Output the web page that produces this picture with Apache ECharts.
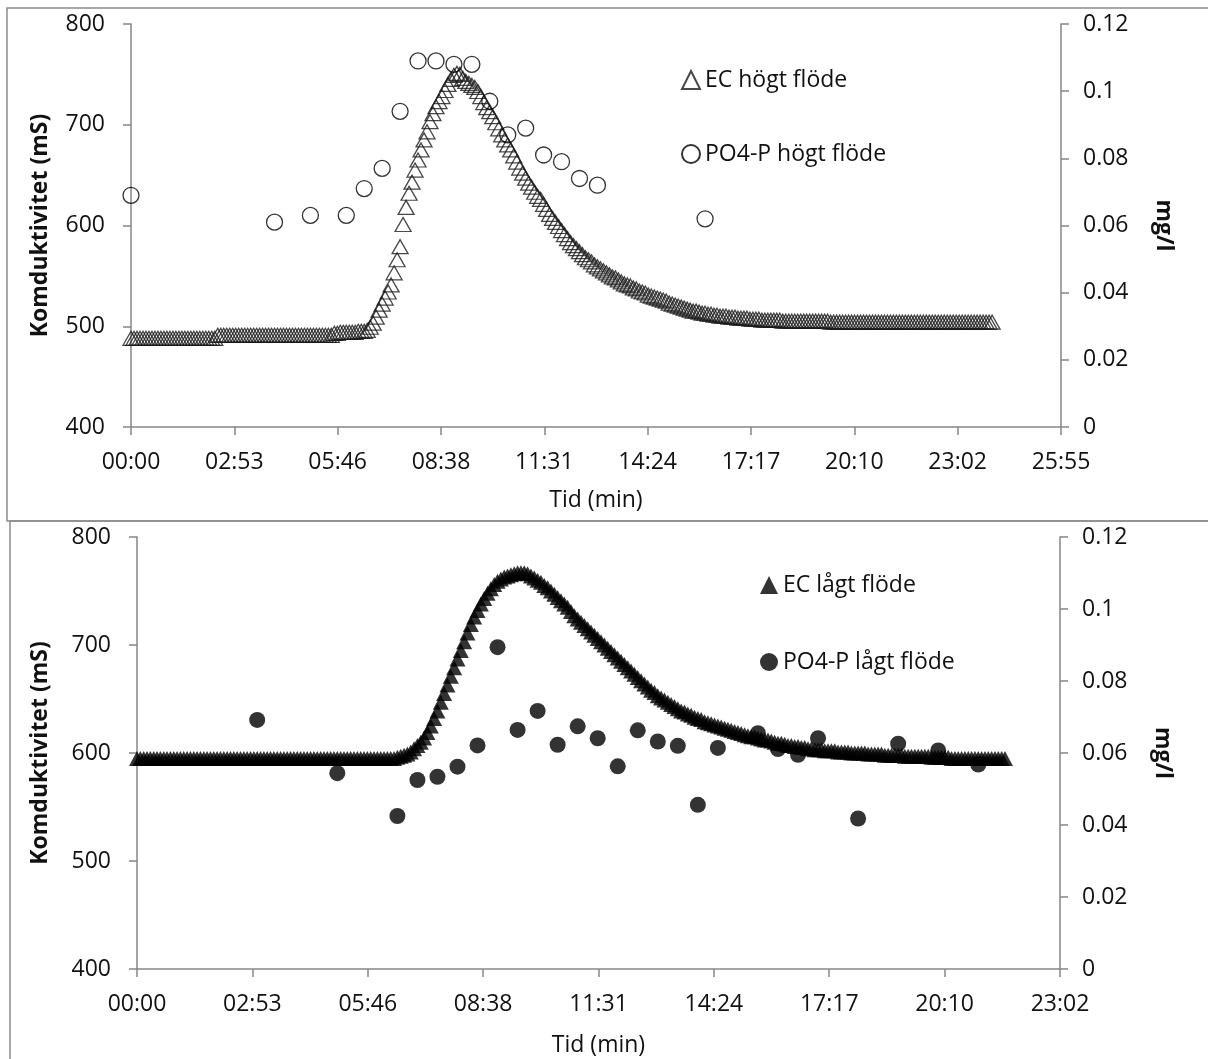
<!DOCTYPE html>
<html>
<head>
<meta charset="utf-8">
<title>EC och PO4-P</title>
<script src="https://cdn.jsdelivr.net/npm/echarts@6/dist/echarts.min.js"></script>
<style>
  html, body { margin: 0; padding: 0; background: #fff; }
  #main { width: 1208px; height: 1059px; }
</style>
</head>
<body>
<div id="main"></div>
<script>
// konduktivitet loggad var 5:e sekund (en rad = en minut)
var EC_STEP = 5;
var ecHogt = [
  488,488,488,488,488,488,488,488,488,488,488,488,
  488,488,488,488,488,488,488,488,488,488,488,488,
  488,488,488,488,488,491,491,491,491,491,491,491,
  491,491,491,491,491,491,491,491,491,491,491,491,
  491,491,491,491,491,491,491,491,491,491,491,491,
  491,491,491,491,491,491,491,491,493,493,494,494,
  494,494,494,494,495,495,495,496,499,503,509,516,
  522,528,534,541,553,566,579,601,618,632,643,655,
  665,675,685,693,703,711,718,723,728,734,740,745,
  749,751,750,746,743,741,739,737,733,728,722,717,
  713,708,702,696,690,685,680,675,669,663,657,652,
  647,642,638,633,629,626,621,616,611,607,603,599,
  595,591,587,583,580,577,574,571,568,566,564,561,
  559,557,555,553,551,549,548,546,544,542,541,540,
  538,537,535,534,533,531,530,529,528,527,526,525,
  523,522,521,520,519,518,517,516,515,515,514,513,
  513,512,512,511,511,510,510,510,509,509,509,508,
  508,508,508,507,507,507,507,506,506,506,506,506,
  506,506,505,505,505,505,505,505,505,505,505,505,
  505,505,505,505,505,505,504,504,504,504,504,504,
  504,504,504,504,504,504,504,504,504,504,504,504,
  504,504,504,504,504,504,504,504,504,504,504,504,
  504,504,504,504,504,504,504,504,504,504,504,504,
  504,504,504,504,504,504,504,504,504,504,504,504,
  504
];
var ecLagt = [
  595,595,595,595,595,595,595,595,595,595,595,595,
  595,595,595,595,595,595,595,595,595,595,595,595,
  595,595,595,595,595,595,595,595,595,595,595,595,
  595,595,595,595,595,595,595,595,595,595,595,595,
  595,595,595,595,595,595,595,595,595,595,595,595,
  595,595,595,595,595,595,595,595,595,595,595,595,
  595,595,595,595,595,595,596,597,598,599,601,604,
  607,610,614,619,625,632,639,647,655,663,671,679,
  687,695,703,711,719,726,732,738,743,748,752,756,
  759,761,763,764,765,766,767,767,767,766,764,762,
  760,758,755,753,750,747,744,741,738,735,731,727,
  724,721,718,715,712,709,706,703,700,697,694,691,
  688,685,682,679,676,673,670,667,664,661,658,656,
  653,651,649,647,645,643,641,639,638,636,635,633,
  632,631,629,628,627,626,625,624,623,622,621,620,
  619,618,617,616,615,615,614,613,612,612,611,610,
  609,609,608,607,607,606,606,605,605,604,604,603,
  603,603,602,602,602,602,601,601,601,601,600,600,
  600,600,600,599,599,599,599,599,598,598,598,598,
  598,598,597,597,597,597,597,597,597,597,596,596,
  596,596,596,596,595,595,595,595,595,595,595,595,
  595,595,595,595,595,595,595,595,595
];

// PO4-P prover (tid i sekunder, mg/l)
var poHogtTid = [0, 240, 300, 360, 390, 420, 450, 480, 510, 540, 570, 600, 630, 660, 690, 720, 750, 780, 960];
var poHogt = [0.069, 0.061, 0.063, 0.063, 0.071, 0.077, 0.094, 0.109, 0.109, 0.108, 0.108, 0.097, 0.087, 0.089, 0.081, 0.079, 0.074, 0.072, 0.062];
var poLagtTid = [180, 300, 390, 420, 450, 480, 510, 540, 570, 600, 630, 660, 690, 720, 750, 780, 810, 840, 870, 930, 960, 990, 1020, 1080, 1140, 1200, 1260];
var poLagt = [0.0692, 0.0544, 0.0425, 0.0525, 0.0534, 0.0562, 0.0621, 0.0894, 0.0664, 0.0717, 0.0623, 0.0674, 0.0641, 0.0563, 0.0663, 0.0632, 0.0620, 0.0456, 0.0614, 0.0655, 0.0611, 0.0595, 0.0641, 0.0418, 0.0626, 0.0607, 0.0568];

// axlar: excel-tid, steg 0.002 dygn = 172.8 s
var tidSteg = 172.8;
var tidMaxHogt = 1555.2;
var tidMaxLagt = 1382.4;
var ecMin = 400, ecMax = 800, ecSteg = 100;
var mgMin = 0, mgMax = 0.12, mgSteg = 0.02;

function pad(n){ return (n < 10 ? '0' : '') + n; }
function mmss(v){
  var s = Math.round(v);
  return pad(Math.floor(s / 60)) + ':' + pad(s % 60);
}
function pairs(tid, val){
  return val.map(function(v, i){ return [tid[i], v]; });
}
function stepPairs(val){
  return val.map(function(v, i){ return [i * EC_STEP, v]; });
}

var FONT = '"Open Sans", "Liberation Sans", sans-serif';
var axisGrey = '#868686';
var txt = { color: '#111', fontFamily: FONT, fontSize: 23 };

function xAx(grid, max, gap){
  return {
    type: 'value', gridIndex: grid, min: 0, max: max, interval: tidSteg,
    name: 'Tid (min)', nameLocation: 'middle', nameGap: gap,
    nameTextStyle: txt,
    axisLine: { lineStyle: { color: axisGrey, width: 1.5 } },
    axisTick: { length: 8, lineStyle: { color: axisGrey, width: 1.5 } },
    axisLabel: Object.assign({ margin: 24, formatter: mmss }, txt),
    splitLine: { show: false }
  };
}
function yLeft(grid, gap){
  return {
    type: 'value', gridIndex: grid, position: 'left', min: ecMin, max: ecMax, interval: ecSteg,
    name: 'Komduktivitet (mS)', nameLocation: 'middle', nameGap: gap,
    nameTextStyle: Object.assign({}, txt, { fontWeight: 'bold', fontSize: 23 }),
    axisLine: { show: true, lineStyle: { color: axisGrey, width: 1.5 } },
    axisTick: { show: true, length: 8, lineStyle: { color: axisGrey, width: 1.5 } },
    axisLabel: Object.assign({ margin: 26 }, txt),
    splitLine: { show: false }
  };
}
function yRight(grid, gap){
  return {
    type: 'value', gridIndex: grid, position: 'right', min: mgMin, max: mgMax, interval: mgSteg,
    name: 'mg/l', nameLocation: 'middle', nameGap: gap, nameRotate: -90,
    nameTextStyle: Object.assign({}, txt, { fontWeight: 'bold', fontSize: 23 }),
    axisLine: { show: true, lineStyle: { color: axisGrey, width: 1.5 } },
    axisTick: { show: true, length: 8, lineStyle: { color: axisGrey, width: 1.5 } },
    axisLabel: Object.assign({ margin: 22, formatter: function(v){ return String(+v.toFixed(2)); } }, txt),
    splitLine: { show: false }
  };
}

var chart = echarts.init(document.getElementById('main'), null, { renderer: 'canvas' });
chart.setOption({
  animation: false,
  backgroundColor: '#fff',
  graphic: [
    { type: 'rect', shape: { x: 7, y: 8, width: 1215, height: 513 },
      style: { fill: 'none', stroke: '#8c8c8c', lineWidth: 1.5 }, silent: true },
    { type: 'rect', shape: { x: 10, y: 521, width: 1215, height: 560 },
      style: { fill: 'none', stroke: '#8c8c8c', lineWidth: 1.5 }, silent: true }
  ],
  grid: [
    { left: 131, top: 24, width: 930, height: 403 },
    { left: 137, top: 537, width: 923, height: 432 }
  ],
  legend: [
    { orient: 'vertical', left: 676, top: 62, itemGap: 48, itemWidth: 18, itemHeight: 18,
      textStyle: Object.assign({ lineHeight: 26 }, txt),
      data: ['EC högt flöde', 'PO4-P högt flöde'] },
    { orient: 'vertical', left: 755, top: 567, itemGap: 51, itemWidth: 18, itemHeight: 18,
      textStyle: Object.assign({ lineHeight: 26 }, txt),
      data: ['EC lågt flöde', 'PO4-P lågt flöde'] }
  ],
  xAxis: [ xAx(0, tidMaxHogt, 62), xAx(1, tidMaxLagt, 65) ],
  yAxis: [ yLeft(0, 79), yRight(0, 91), yLeft(1, 85), yRight(1, 91) ],
  series: [
    { name: 'EC högt flöde', type: 'scatter', xAxisIndex: 0, yAxisIndex: 0,
      symbol: 'triangle', symbolSize: [16, 14],
      itemStyle: { color: 'rgba(0,0,0,0)', borderColor: '#1a1a1a', borderWidth: 1.3 },
      data: stepPairs(ecHogt) },
    { name: 'PO4-P högt flöde', type: 'scatter', xAxisIndex: 0, yAxisIndex: 1,
      symbol: 'circle', symbolSize: 16,
      itemStyle: { color: 'rgba(0,0,0,0)', borderColor: '#000', borderWidth: 1.3 },
      data: pairs(poHogtTid, poHogt) },
    { name: 'EC lågt flöde', type: 'scatter', xAxisIndex: 1, yAxisIndex: 2,
      symbol: 'triangle', symbolSize: [16, 15],
      itemStyle: { color: '#000' },
      data: stepPairs(ecLagt) },
    { name: 'PO4-P lågt flöde', type: 'scatter', xAxisIndex: 1, yAxisIndex: 3,
      symbol: 'circle', symbolSize: 16,
      itemStyle: { color: '#000' },
      data: pairs(poLagtTid, poLagt) }
  ]
});
</script>
</body>
</html>
